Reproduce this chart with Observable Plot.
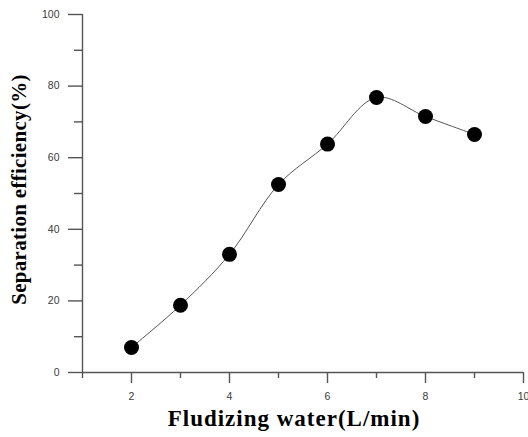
<!DOCTYPE html>
<html>
<head>
<meta charset="utf-8">
<script src="https://cdn.jsdelivr.net/npm/d3@7"></script>
<script src="https://cdn.jsdelivr.net/npm/@observablehq/plot@0.6"></script>
<style>
  html, body { margin: 0; padding: 0; background: #fff; }
  #chart svg { display: block; }
  #chart svg text.xlab { letter-spacing: 1px; }
  #chart svg text.ylab { letter-spacing: 0.3px; }
</style>
</head>
<body>
<div id="chart"></div>
<script>
const water = [2, 3, 4, 5, 6, 7, 8, 9];
const efficiency = [7, 18.8, 33, 52.5, 63.8, 76.8, 71.5, 66.5];
const xMajorTicks = [2, 4, 6, 8, 10];
const xMinorTicks = [1, 3, 5, 7, 9];
const yMajorTicks = [0, 20, 40, 60, 80, 100];
const yMinorTicks = [10, 30, 50, 70, 90];
const xLabel = "Fludizing water(L/min)";
const yLabel = "Separation efficiency(%)";

const data = water.map((w, i) => ({w, e: efficiency[i]}));
const axisColor = "#555";
const serif = "'Liberation Serif', 'Times New Roman', serif";

const chart = Plot.plot({
  width: 528,
  height: 437,
  marginLeft: 82,
  marginRight: 5,
  marginTop: 14,
  marginBottom: 65,
  style: {fontFamily: "'Liberation Sans', Arial, sans-serif", fontSize: "10.5px", background: "#fff"},
  x: {domain: [1, 10]},
  y: {domain: [0, 100]},
  marks: [
    Plot.axisY({ticks: yMajorTicks, tickSize: 14, tickPadding: 9, stroke: axisColor, strokeWidth: 1.4, strokeOpacity: 1, fill: "#3a3a3a", label: null}),
    Plot.axisY({ticks: yMinorTicks, tickSize: 8, text: null, stroke: axisColor, strokeWidth: 1.4, strokeOpacity: 1, label: null}),
    Plot.axisX({ticks: xMajorTicks, tickSize: 11, tickPadding: 9, stroke: axisColor, strokeWidth: 1.4, strokeOpacity: 1, fill: "#3a3a3a", label: null}),
    Plot.axisX({ticks: xMinorTicks, tickSize: 6, text: null, stroke: axisColor, strokeWidth: 1.4, strokeOpacity: 1, label: null}),
    Plot.ruleX([1], {y1: 0, y2: 100, stroke: axisColor, strokeWidth: 1.4}),
    Plot.ruleY([0], {x1: 1, x2: 10, stroke: axisColor, strokeWidth: 1.4}),
    Plot.line(data, {x: "w", y: "e", curve: "catmull-rom", stroke: "#555", strokeWidth: 1}),
    Plot.dot(data, {x: "w", y: "e", r: 7.5, fill: "#000", stroke: "none"}),
    Plot.text([xLabel], {frameAnchor: "bottom", textAnchor: "middle", dx: -9, dy: 53, text: d => d, fontFamily: serif, fontWeight: "bold", fontSize: 23, fill: "#000"}),
    Plot.text([yLabel], {frameAnchor: "left", textAnchor: "middle", dx: -63, dy: -4, text: d => d, rotate: -90, fontFamily: serif, fontWeight: "bold", fontSize: 21, fill: "#000"})
  ]
});
chart.querySelectorAll("text").forEach(t => {
  if (t.textContent === xLabel) t.classList.add("xlab");
  if (t.textContent === yLabel) t.classList.add("ylab");
});
document.getElementById("chart").appendChild(chart);
</script>
</body>
</html>
